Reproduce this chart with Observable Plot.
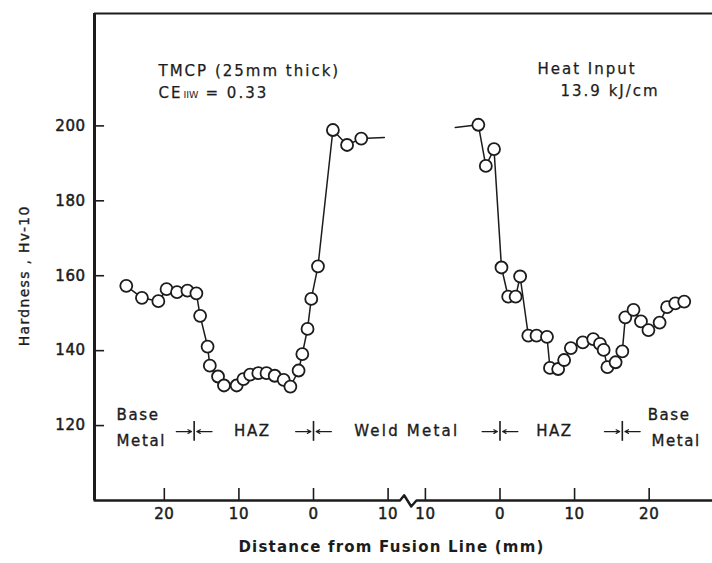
<!DOCTYPE html>
<html><head><meta charset="utf-8">
<script src="https://cdn.jsdelivr.net/npm/d3@7"></script>
<script src="https://cdn.jsdelivr.net/npm/@observablehq/plot@0.6"></script>
<style>
html,body{margin:0;padding:0;background:#fff;}
</style>
</head><body><div id="chart"></div>
<script>
// ---- data (distance from fusion line, mm; positive = towards base metal) ----
const leftDist = [25.1,23.0,20.8,19.7,18.3,16.9,15.7,15.2,14.2,13.9,12.8,12.0,10.3,9.4,8.5,7.4,6.3,5.2,4.0,3.1,2.0,1.5,0.8,0.3,-0.6,-2.6,-4.5,-6.4];
const leftHv   = [157.3,154.1,153.2,156.4,155.6,156.0,155.3,149.3,141.1,136.0,133.1,130.7,130.7,132.4,133.6,134.0,134.0,133.3,132.2,130.4,134.7,139.1,145.8,153.8,162.5,198.9,194.9,196.6];
const leftTailDist = [-9.5];
const leftTailHv   = [196.9];
const rightLeadDist = [-6.0];
const rightLeadHv   = [199.6];
const rightDist = [-2.9,-1.9,-0.8,0.2,1.1,2.1,2.7,3.8,4.9,6.3,6.7,7.8,8.6,9.5,11.1,12.5,13.4,13.9,14.4,15.5,16.4,16.8,17.9,18.9,19.9,21.4,22.4,23.5,24.7];
const rightHv   = [200.3,189.3,193.8,162.2,154.4,154.4,159.8,144.0,144.0,143.7,135.4,135.1,137.5,140.7,142.2,143.1,141.8,140.2,135.6,136.9,139.8,148.9,150.9,147.8,145.5,147.5,151.6,152.6,153.1];
const leftTicks  = [20,10,0,-10];
const rightTicks = [-10,0,10,20];
const yTicks = [120,140,160,180,200];
const leftBounds  = [16.0, 0];
const rightBounds = [0, 16.4];

// ---- geometry of the broken axis ----
const GAP = 25;                 // offset of right fusion line on the shared axis
const uL = d => -d;
const uR = d => GAP + d;
const xMin = -29.36, xMax = 53.49, yMin = 100, yMax = 230;
const breakU = (uL(-10) + uR(-10)) / 2;

const leftLine = leftDist.map((d,i)=>({u:uL(d), hv:leftHv[i]}));
const leftTail = leftTailDist.map((d,i)=>({u:uL(d), hv:leftTailHv[i]}));
const rightLine = rightDist.map((d,i)=>({u:uR(d), hv:rightHv[i]}));
const rightLead = rightLeadDist.map((d,i)=>({u:uR(d), hv:rightLeadHv[i]}));
const tickU = [...leftTicks.map(uL), ...rightTicks.map(uR)];
const tickLab = [...leftTicks, ...rightTicks].map(Math.abs);
const bounds = [...leftBounds.map(uL), ...rightBounds.map(uR)];

const axisPts = [
  {u:xMin, hv:yMin},
  {u:breakU-0.9, hv:yMin},
  {u:breakU-0.35, hv:yMin+1.4},
  {u:breakU+0.6, hv:yMin-1.6},
  {u:breakU+1.3, hv:yMin},
  {u:xMax, hv:yMin}
];

const ink = "#1c1c1c";
const zy = 118.4;
const T = {fill:ink, stroke:ink, strokeWidth:0.35};

const chart = Plot.plot({
  width: 712, height: 563,
  marginTop: 13, marginBottom: 63, marginLeft: 94, marginRight: 0,
  x: {domain:[xMin,xMax], axis:null},
  y: {domain:[yMin,yMax], axis:null},
  style: {fontFamily:"'DejaVu Sans', sans-serif", color: ink, background:"white", overflow:"visible"},
  marks: [
    // frame
    Plot.ruleX([xMin], {y1:yMin, y2:yMax, stroke:ink, strokeWidth:3}),
    Plot.ruleY([yMax], {x1:xMin, x2:xMax, stroke:ink, strokeWidth:2.2}),
    Plot.line(axisPts, {x:"u", y:"hv", stroke:ink, strokeWidth:2.4}),
    // ticks (inward)
    Plot.ruleX(tickU, {y1:yMin, y2:yMin+3.2, stroke:ink, strokeWidth:1.6}),
    Plot.ruleY(yTicks, {x1:xMin, x2:xMin+1.35, stroke:ink, strokeWidth:1.6}),
    // tick labels
    Plot.text(tickU, {x:d=>d, frameAnchor:"bottom", dy:18, text:(d,i)=>tickLab[i], fontSize:15, ...T, strokeWidth:0.5, ariaDescription:"xtick"}),
    Plot.text(yTicks, {y:d=>d, frameAnchor:"left", dx:-9, textAnchor:"end", text:d=>d, fontSize:15, ...T, strokeWidth:0.5, ariaDescription:"ytick"}),
    // axis titles
    Plot.text(["Distance from Fusion Line (mm)"], {x:(391-313)/7.46, frameAnchor:"bottom", dy:51, textAnchor:"middle", fontSize:15, fontWeight:"bold", fill:ink, ariaDescription:"xtitle"}),
    Plot.text(["Hardness , Hv-10"], {y:160, frameAnchor:"left", dx:-70, rotate:-90, textAnchor:"middle", fontSize:14, ...T, ariaDescription:"ytitle"}),
    // data
    Plot.line([...leftLine, ...leftTail], {x:"u", y:"hv", stroke:ink, strokeWidth:1.5}),
    Plot.line([...rightLead, ...rightLine], {x:"u", y:"hv", stroke:ink, strokeWidth:1.5}),
    Plot.dot([...leftLine, ...rightLine], {x:"u", y:"hv", r:6, fill:"white", stroke:ink, strokeWidth:1.8}),
    // zone boundaries  →|←
    Plot.ruleX(bounds, {y1:115.8, y2:121.1, stroke:ink, strokeWidth:1.6}),
    Plot.arrow(bounds, {x1:d=>d-2.4, x2:d=>d-0.35, y1:zy, y2:zy, headLength:5, headAngle:55, stroke:ink, strokeWidth:1.2}),
    Plot.arrow(bounds, {x1:d=>d+2.4, x2:d=>d+0.35, y1:zy, y2:zy, headLength:5, headAngle:55, stroke:ink, strokeWidth:1.2}),
    // zone labels
    Plot.text(["Base"], {x:uL(26.4), y:122.8, textAnchor:"start", fontSize:15, ...T, ariaDescription:"zone"}),
    Plot.text(["Metal"], {x:uL(26.4), y:115.8, textAnchor:"start", fontSize:15, ...T, ariaDescription:"zone"}),
    Plot.text(["HAZ"], {x:uL(8.2), y:zy, textAnchor:"middle", fontSize:15, ...T, ariaDescription:"zone"}),
    Plot.text(["Weld Metal"], {x:breakU, y:zy, textAnchor:"middle", fontSize:15, ...T, ariaDescription:"zonew"}),
    Plot.text(["HAZ"], {x:uR(7.3), y:zy, textAnchor:"middle", fontSize:15, ...T, ariaDescription:"zone"}),
    Plot.text(["Base"], {x:uR(19.8), y:122.8, textAnchor:"start", fontSize:15, ...T, ariaDescription:"zone"}),
    Plot.text(["Metal"], {x:uR(20.3), y:115.8, textAnchor:"start", fontSize:15, ...T, ariaDescription:"zone"}),
    // annotations
    Plot.text(["TMCP (25mm thick)"], {frameAnchor:"top-left", dx:64, dy:52, textAnchor:"start", fontSize:15, ...T, strokeWidth:0.25, ariaDescription:"note"}),
    Plot.text(["CE"], {frameAnchor:"top-left", dx:64, dy:74, textAnchor:"start", fontSize:15, ...T, strokeWidth:0.25, ariaDescription:"note"}),
    Plot.text(["IIW"], {frameAnchor:"top-left", dx:89, dy:78, textAnchor:"start", fontSize:9.5, fill:ink, ariaDescription:"sub"}),
    Plot.text(["= 0.33"], {frameAnchor:"top-left", dx:111, dy:74, textAnchor:"start", fontSize:15, ...T, strokeWidth:0.25, ariaDescription:"note"}),
    Plot.text(["Heat Input"], {frameAnchor:"top-left", dx:443, dy:50, textAnchor:"start", fontSize:15, ...T, strokeWidth:0.25, ariaDescription:"note"}),
    Plot.text(["13.9 kJ/cm"], {frameAnchor:"top-left", dx:466, dy:72, textAnchor:"start", fontSize:15, ...T, strokeWidth:0.25, ariaDescription:"note"})
  ]
});
const sel = d3.select(chart);
const spacing = {note:"2px", zone:"1.6px", zonew:"2.2px", xtitle:"1.2px", ytitle:"1.3px", xtick:"0.5px", ytick:"0.5px"};
for (const [k,v] of Object.entries(spacing)) {
  sel.selectAll(`g[aria-description="${k}"] text`).attr("letter-spacing", v);
}
document.getElementById("chart").appendChild(chart);
</script>
</body></html>
